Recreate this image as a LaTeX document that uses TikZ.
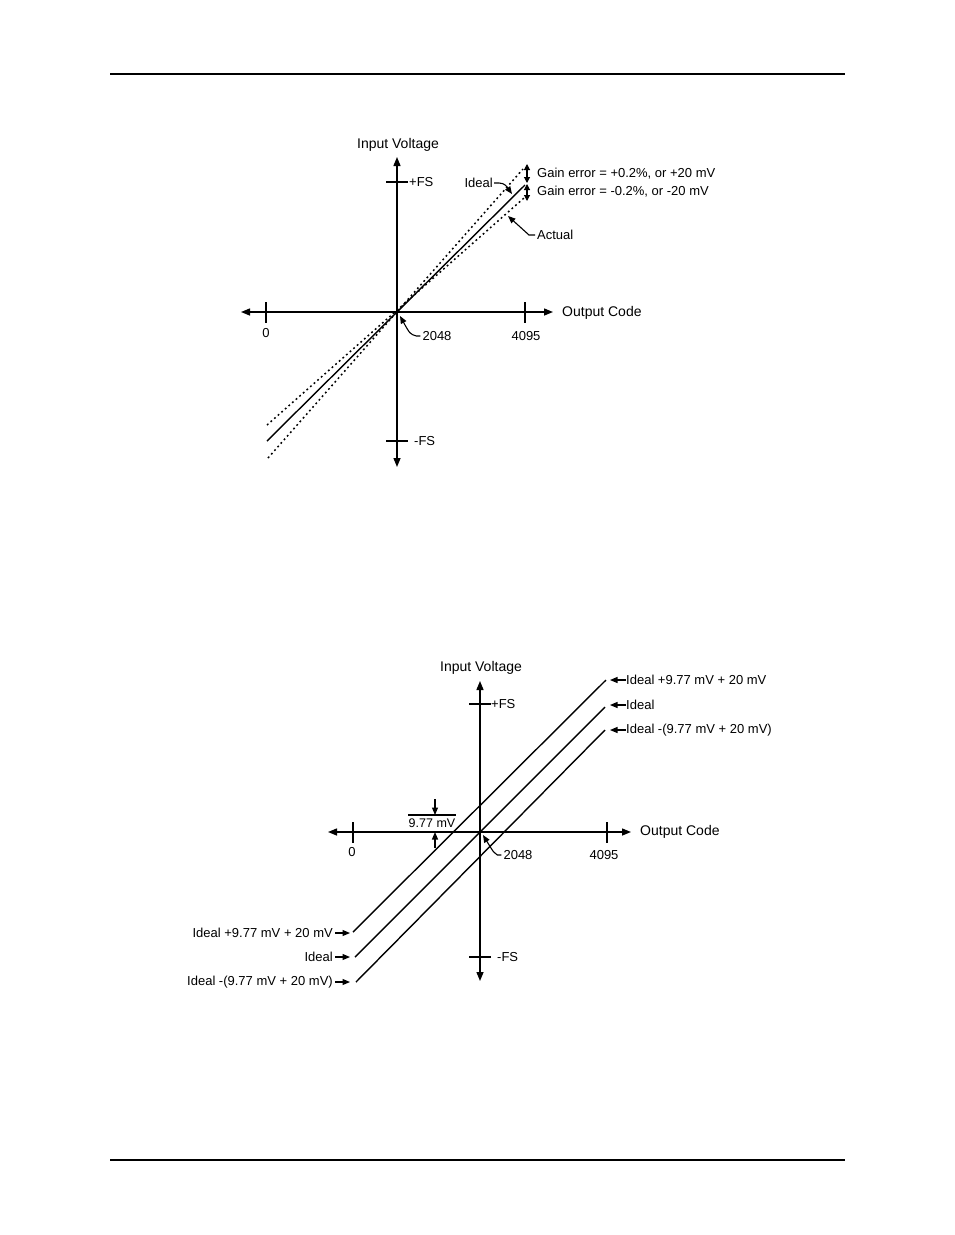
\documentclass[tikz,border=0pt]{standalone}
\usepackage{fontspec}
\setmainfont{Liberation Sans}
\usetikzlibrary{arrows.meta}
\begin{document}
\begin{tikzpicture}[x=1pt,y=-1pt,
  axis/.style={line width=1.4pt,{Triangle[length=9pt,width=7pt]}-{Triangle[length=9pt,width=7pt]}},
  tick/.style={line width=1.4pt},
  solidline/.style={line width=1.4pt},
  dotline/.style={line width=1.5pt,dash pattern=on 1.8pt off 3pt},
  lbl/.style={font=\fontsize{13}{15}\selectfont,inner sep=0pt},
  ttl/.style={font=\fontsize{14}{16}\selectfont,inner sep=0pt},
  small/.style={font=\fontsize{12.5}{14}\selectfont,inner sep=0pt},
  lead/.style={line width=1.1pt,-{Triangle[length=7.5pt,width=6pt]}},
  dbl/.style={line width=1.1pt,{Triangle[length=6pt,width=6pt]}-{Triangle[length=6pt,width=6pt]}},
  rule/.style={line width=1.4pt}
]
\useasboundingbox (0,0) rectangle (954,1235);
% page rules
\coordinate (hL) at (110,74);  \coordinate (hR) at (845,74);
\coordinate (fL) at (110,1160); \coordinate (fR) at (845,1160);
\draw[rule] (hL) -- (hR);
\draw[rule] (fL) -- (fR);

%% ---------------- top diagram ----------------
\coordinate (O1) at (397,312);
\coordinate (vT1) at (397,157); \coordinate (vB1) at (397,467);
\coordinate (hL1) at (241,312); \coordinate (hR1) at (553,312);
\draw[axis] (vB1) -- (vT1);
\draw[axis] (hL1) -- (hR1);
\draw[tick] (386,182) -- (408,182);
\draw[tick] (386,441) -- (408,441);
\draw[tick] (266,302) -- (266,323);
\draw[tick] (525,302) -- (525,323);

\node[ttl] (iv1) at (398,145) {Input Voltage};
\node[lbl,anchor=west] (pfs1) at (409,182) {+FS};
\node[lbl,anchor=west] (mfs1) at (414,441) {-FS};
\node[lbl] (z1) at (266,333) {0};
\node[lbl] (c2048a) at (437,336) {2048};
\node[lbl] (c4095a) at (526,336) {4095};
\node[ttl,anchor=west] (oc1) at (562,313) {Output Code};

% transfer lines
\coordinate (sA) at (267,441); \coordinate (sB) at (525,185);
\coordinate (dA) at (268,458); \coordinate (dB) at (523,169);
\coordinate (eA) at (267,425); \coordinate (eB) at (524,198);
\draw[solidline] (sA) -- (sB);
\draw[dotline] (dA) -- (dB);
\draw[dotline] (eA) -- (eB);

% gain error arrows
\coordinate (g1a) at (527,164); \coordinate (g1b) at (527,183);
\coordinate (g2a) at (527,184); \coordinate (g2b) at (527,201);
\draw[dbl] (g1a) -- (g1b);
\draw[dbl] (g2a) -- (g2b);
\node[lbl,anchor=west] (ge1) at (537,174) {Gain error = +0.2\%, or +20 mV};
\node[lbl,anchor=west] (ge2) at (537,192) {Gain error = -0.2\%, or -20 mV};

% Ideal / Actual leaders
\node[lbl,anchor=east] (idealT) at (493,183) {Ideal};
\coordinate (idealTip) at (512,194);
\draw[lead] ([xshift=1pt]idealT.east) -- ++(5,0) .. controls (505,183) and (507,187) .. (idealTip);
\node[lbl,anchor=west] (actT) at (537,235) {Actual};
\coordinate (actTip) at (508,216);
\draw[lead] ([xshift=-2pt]actT.west) -- ++(-6,0) -- (actTip);
\coordinate (t2048a) at (400,316);
\draw[lead] ([xshift=-2pt]c2048a.west) -- ++(-4,0) .. controls (410,334) .. (t2048a);

%% ---------------- bottom diagram ----------------
\coordinate (O2) at (480,832);
\coordinate (vT2) at (480,681); \coordinate (vB2) at (480,981);
\coordinate (hL2) at (328,832); \coordinate (hR2) at (631,832);
\draw[axis] (vB2) -- (vT2);
\draw[axis] (hL2) -- (hR2);
\draw[tick] (469,704) -- (491,704);
\draw[tick] (469,957) -- (491,957);
\draw[tick] (353,822) -- (353,843);
\draw[tick] (607,822) -- (607,843);

\node[ttl] (iv2) at (481,668) {Input Voltage};
\node[lbl,anchor=west] (pfs2) at (491,704) {+FS};
\node[lbl,anchor=west] (mfs2) at (497,957) {-FS};
\node[lbl] (z2) at (352,852) {0};
\node[lbl] (c2048b) at (518,855) {2048};
\node[lbl] (c4095b) at (604,855) {4095};
\node[ttl,anchor=west] (oc2) at (640,832) {Output Code};

\coordinate (uA) at (353,932); \coordinate (uB) at (606,680);
\coordinate (mA) at (355,957); \coordinate (mB) at (605,707);
\coordinate (lA) at (356,982); \coordinate (lB) at (605,730);
\draw[solidline] (uA) -- (uB);
\draw[solidline] (mA) -- (mB);
\draw[solidline] (lA) -- (lB);

% right labels
\node[lbl,anchor=west] (r1) at (626,680) {Ideal +9.77 mV + 20 mV};
\node[lbl,anchor=west] (r2) at (626,705) {Ideal};
\node[lbl,anchor=west] (r3) at (626,730) {Ideal -(9.77 mV + 20 mV)};
\coordinate (r1t) at (610,680); \coordinate (r2t) at (610,705); \coordinate (r3t) at (610,730);
\draw[lead] (r1.west) -- (r1t);
\draw[lead] (r2.west) -- (r2t);
\draw[lead] (r3.west) -- (r3t);

% left labels
\node[lbl,anchor=east] (l1) at (333,933) {Ideal +9.77 mV + 20 mV};
\node[lbl,anchor=east] (l2) at (333,957) {Ideal};
\node[lbl,anchor=east] (l3) at (333,982) {Ideal -(9.77 mV + 20 mV)};
\coordinate (l1t) at (350,933); \coordinate (l2t) at (350,957); \coordinate (l3t) at (350,982);
\draw[lead] ([xshift=2pt]l1.east) -- (l1t);
\draw[lead] ([xshift=2pt]l2.east) -- (l2t);
\draw[lead] ([xshift=2pt]l3.east) -- (l3t);

% 9.77 mV marker
\node[small] (m977) at (432,823) {9.77 mV};
\coordinate (mkL) at (408,815); \coordinate (mkR) at (456,815);
\draw[line width=1.1pt] (mkL) -- (mkR);
\coordinate (dnTail) at (435,799); \coordinate (dnTip) at (435,815);
\coordinate (upTail) at (435,848); \coordinate (upTip) at (435,832);
\draw[lead] (dnTail) -- (dnTip);
\draw[lead] (upTail) -- (upTip);

\coordinate (t2048b) at (483,835);
\draw[lead] ([xshift=-2pt]c2048b.west) -- ++(-4,0) .. controls (494,853) .. (t2048b);
\end{tikzpicture}
\end{document}
